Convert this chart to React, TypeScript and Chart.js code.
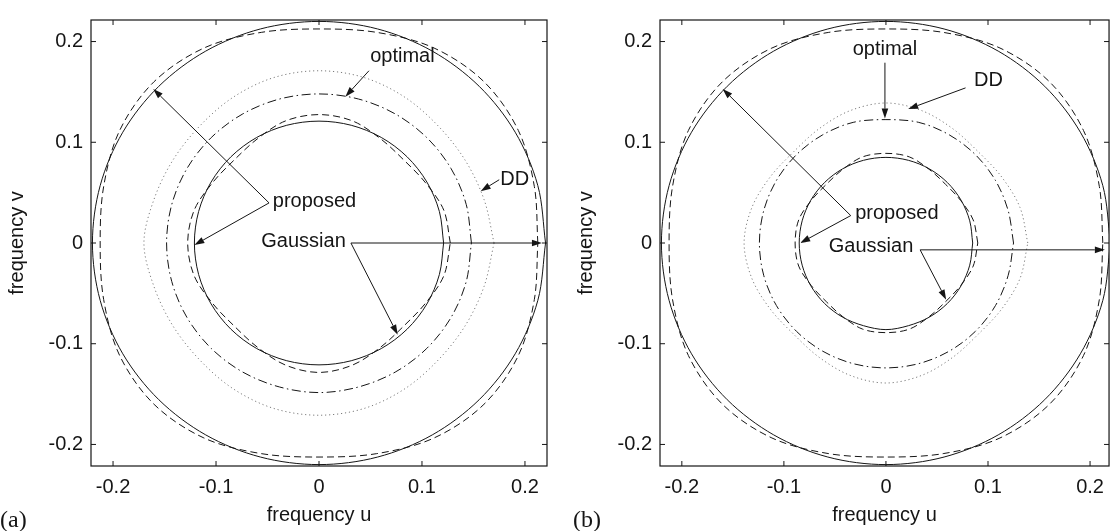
import React, { useEffect, useRef } from 'react';
import { Chart, registerables } from 'chart.js';

Chart.register(...registerables);

// ---------- shared axis data ----------
const ANGLES_DEG = [0, 15, 30, 45, 60, 75, 90, 105, 120, 135, 150, 165, 180, 195, 210, 225, 240, 255, 270, 285, 300, 315, 330, 345];
const TICK_VALUES = [-0.2, -0.1, 0, 0.1, 0.2];
const TICK_LABELS = ['-0.2', '-0.1', '0', '0.1', '0.2'];
const X_TITLE = 'frequency u';
const Y_TITLE = 'frequency v';
const PANEL_LETTERS = ['(a)', '(b)'];
const A_X_RANGE = [-0.2214, 0.2214];
const B_X_RANGE = [-0.2214, 0.2186];
const Y_RANGE = [-0.2214, 0.2214];

// ---------- panel (a): contour radius at each angle ----------
const A_PROPOSED_OUTER = [0.22, 0.22, 0.22, 0.22, 0.22, 0.22, 0.22, 0.22, 0.22, 0.22, 0.22, 0.22, 0.22, 0.22, 0.22, 0.22, 0.22, 0.22, 0.22, 0.22, 0.22, 0.22, 0.22, 0.22];
const A_GAUSSIAN_OUTER = [0.2125, 0.2165, 0.2235, 0.2265, 0.2235, 0.2165, 0.2125, 0.2165, 0.2235, 0.2265, 0.2235, 0.2165, 0.2125, 0.2165, 0.2235, 0.2265, 0.2235, 0.2165, 0.2125, 0.2165, 0.2235, 0.2265, 0.2235, 0.2165];
const A_PROPOSED_INNER = [0.121, 0.121, 0.121, 0.121, 0.121, 0.121, 0.121, 0.121, 0.121, 0.121, 0.121, 0.121, 0.121, 0.121, 0.121, 0.121, 0.121, 0.121, 0.121, 0.121, 0.121, 0.121, 0.121, 0.121];
const A_GAUSSIAN_INNER = [0.1275, 0.1255, 0.1195, 0.1165, 0.1195, 0.1255, 0.1275, 0.1255, 0.1195, 0.1165, 0.1195, 0.1255, 0.1275, 0.1255, 0.1195, 0.1165, 0.1195, 0.1255, 0.1285, 0.1255, 0.1195, 0.1165, 0.1195, 0.1255];
const A_OPTIMAL = [0.148, 0.148, 0.148, 0.148, 0.148, 0.148, 0.148, 0.148, 0.148, 0.148, 0.148, 0.148, 0.148, 0.148, 0.148, 0.148, 0.148, 0.148, 0.1485, 0.148, 0.148, 0.148, 0.148, 0.148];
const A_DD = [0.17, 0.166, 0.164, 0.164, 0.167, 0.17, 0.171, 0.17, 0.167, 0.164, 0.164, 0.166, 0.17, 0.166, 0.164, 0.164, 0.167, 0.17, 0.171, 0.17, 0.167, 0.164, 0.164, 0.166];

const A_TEXTS = [
  { text: 'optimal', x: 0.081, y: 0.185 },
  { text: 'DD', x: 0.19, y: 0.063 },
  { text: 'proposed', x: -0.0044, y: 0.0417 },
  { text: 'Gaussian', x: -0.015, y: 0.002 },
];
const A_ARROWS = [
  { from: [0.0485, 0.171], to: [0.0256, 0.1453] },
  { from: [0.175, 0.0628], to: [0.157, 0.0515] },
  { from: [-0.0485, 0.0398], to: [-0.161, 0.153] },
  { from: [-0.0485, 0.0398], to: [-0.121, -0.002] },
  { from: [0.031, 0.0], to: [0.2165, 0.0] },
  { from: [0.031, 0.0], to: [0.0764, -0.091] },
];

// ---------- panel (b) ----------
const B_PROPOSED_OUTER = [0.22, 0.22, 0.22, 0.22, 0.22, 0.22, 0.22, 0.22, 0.22, 0.22, 0.22, 0.22, 0.22, 0.22, 0.22, 0.22, 0.22, 0.22, 0.22, 0.22, 0.22, 0.22, 0.22, 0.22];
const B_GAUSSIAN_OUTER = [0.2125, 0.2165, 0.2235, 0.2265, 0.2235, 0.2165, 0.2125, 0.2165, 0.2235, 0.2265, 0.2235, 0.2165, 0.2125, 0.2165, 0.2235, 0.2265, 0.2235, 0.2165, 0.2125, 0.2165, 0.2235, 0.2265, 0.2235, 0.2165];
const B_PROPOSED_INNER = [0.085, 0.085, 0.085, 0.085, 0.085, 0.085, 0.085, 0.085, 0.085, 0.085, 0.085, 0.085, 0.085, 0.085, 0.085, 0.085, 0.085, 0.085, 0.086, 0.085, 0.085, 0.085, 0.085, 0.085];
const B_GAUSSIAN_INNER = [0.09, 0.0885, 0.0845, 0.0825, 0.0845, 0.0885, 0.089, 0.0885, 0.0845, 0.0825, 0.0845, 0.0885, 0.089, 0.0885, 0.0845, 0.0825, 0.0845, 0.0885, 0.089, 0.0885, 0.0845, 0.0825, 0.0845, 0.0885];
const B_OPTIMAL = [0.125, 0.124, 0.124, 0.124, 0.124, 0.124, 0.1225, 0.124, 0.124, 0.124, 0.124, 0.124, 0.124, 0.124, 0.124, 0.124, 0.124, 0.124, 0.124, 0.124, 0.124, 0.124, 0.124, 0.124];
const B_DD = [0.139, 0.136, 0.131, 0.128, 0.131, 0.136, 0.139, 0.136, 0.131, 0.128, 0.131, 0.136, 0.139, 0.136, 0.131, 0.128, 0.131, 0.136, 0.139, 0.136, 0.131, 0.128, 0.131, 0.136];

const B_TEXTS = [
  { text: 'optimal', x: -0.001, y: 0.192 },
  { text: 'DD', x: 0.1005, y: 0.161 },
  { text: 'proposed', x: 0.0107, y: 0.029 },
  { text: 'Gaussian', x: -0.0146, y: -0.003 },
];
const B_ARROWS = [
  { from: [-0.001, 0.179], to: [-0.001, 0.1235] },
  { from: [0.078, 0.154], to: [0.0218, 0.133] },
  { from: [-0.0345, 0.0272], to: [-0.16, 0.153] },
  { from: [-0.0345, 0.0272], to: [-0.084, 0.0] },
  { from: [0.0335, -0.0068], to: [0.2145, -0.0068] },
  { from: [0.0335, -0.0068], to: [0.059, -0.0563] },
];

// ---------- helpers ----------
const SANS = '"Liberation Sans", Arial, Helvetica, sans-serif';
const INK = '#151515';

function toPoints(radii: number[]) {
  const pts = ANGLES_DEG.map((deg, i) => {
    const a = (deg * Math.PI) / 180;
    return { x: radii[i] * Math.cos(a), y: radii[i] * Math.sin(a) };
  });
  pts.push({ ...pts[0] });
  return pts;
}

function curve(radii: number[], style: 'solid' | 'dashed' | 'dashdot' | 'dotted') {
  const dash =
    style === 'dashed' ? [7, 4] : style === 'dashdot' ? [9, 3.5, 1.5, 3.5] : style === 'dotted' ? [1.2, 2.8] : [];
  return {
    data: toPoints(radii),
    showLine: true,
    pointRadius: 0,
    borderColor: style === 'dotted' ? '#7a7a7a' : INK,
    borderWidth: 1,
    borderDash: dash,
    tension: 0.33,
    fill: false,
  };
}

function drawArrow(ctx: CanvasRenderingContext2D, x1: number, y1: number, x2: number, y2: number) {
  const ang = Math.atan2(y2 - y1, x2 - x1);
  const L = 10;
  const W = 3.3;
  const c = Math.cos(ang);
  const s = Math.sin(ang);
  const bx = x2 - L * c;
  const by = y2 - L * s;
  ctx.beginPath();
  ctx.moveTo(x1, y1);
  ctx.lineTo(bx, by);
  ctx.stroke();
  ctx.beginPath();
  ctx.moveTo(x2, y2);
  ctx.lineTo(bx + W * s, by - W * c);
  ctx.lineTo(bx - W * s, by + W * c);
  ctx.closePath();
  ctx.fill();
}

const framePlugin = {
  id: 'frame',
  afterDatasetsDraw(chart: any, _args: any, opts: any) {
    const { ctx, chartArea: ca, scales } = chart;
    const xs = scales.x;
    const ys = scales.y;
    ctx.save();
    ctx.strokeStyle = INK;
    ctx.fillStyle = INK;
    ctx.lineWidth = 1.2;
    ctx.setLineDash([]);
    ctx.strokeRect(ca.left, ca.top, ca.right - ca.left, ca.bottom - ca.top);
    ctx.lineWidth = 1;
    const T = 5;
    TICK_VALUES.forEach((v) => {
      const px = xs.getPixelForValue(v);
      ctx.beginPath();
      ctx.moveTo(px, ca.bottom);
      ctx.lineTo(px, ca.bottom - T);
      ctx.moveTo(px, ca.top);
      ctx.lineTo(px, ca.top + T);
      ctx.stroke();
      const py = ys.getPixelForValue(v);
      ctx.beginPath();
      ctx.moveTo(ca.left, py);
      ctx.lineTo(ca.left + T, py);
      ctx.moveTo(ca.right, py);
      ctx.lineTo(ca.right - T, py);
      ctx.stroke();
    });
    (opts.arrows || []).forEach((a: any) => {
      drawArrow(
        ctx,
        xs.getPixelForValue(a.from[0]),
        ys.getPixelForValue(a.from[1]),
        xs.getPixelForValue(a.to[0]),
        ys.getPixelForValue(a.to[1])
      );
    });
    ctx.font = `20px ${SANS}`;
    ctx.textAlign = 'center';
    ctx.textBaseline = 'middle';
    (opts.texts || []).forEach((t: any) => {
      ctx.fillText(t.text, xs.getPixelForValue(t.x), ys.getPixelForValue(t.y));
    });
    ctx.restore();
  },
};

function makeConfig(datasets: any[], xRange: number[], texts: any[], arrows: any[], rightPad: number) {
  const tickFont = { family: SANS, size: 20 };
  const setTicks = (scale: any) => {
    scale.ticks = TICK_VALUES.map((v) => ({ value: v }));
  };
  const label = (_v: any, i: number) => TICK_LABELS[i];
  return {
    type: 'scatter' as const,
    data: { datasets },
    plugins: [framePlugin],
    options: {
      animation: false,
      responsive: false,
      maintainAspectRatio: false,
      events: [],
      layout: { padding: { top: 10, right: rightPad, bottom: 0, left: 0 } },
      plugins: {
        legend: { display: false },
        tooltip: { enabled: false },
        frame: { texts, arrows },
      },
      scales: {
        x: {
          type: 'linear',
          min: xRange[0],
          max: xRange[1],
          afterBuildTicks: setTicks,
          afterFit: (s: any) => {
            s.height = 65;
          },
          grid: { display: false, drawTicks: false },
          border: { display: false },
          ticks: { callback: label, font: tickFont, color: INK, padding: 9, maxRotation: 0, autoSkip: false },
          title: { display: true, text: X_TITLE, font: tickFont, color: INK, padding: { top: 0, bottom: 4 } },
        },
        y: {
          type: 'linear',
          min: Y_RANGE[0],
          max: Y_RANGE[1],
          afterBuildTicks: setTicks,
          afterFit: (s: any) => {
            s.width = 91;
          },
          grid: { display: false, drawTicks: false },
          border: { display: false },
          ticks: { callback: label, font: tickFont, color: INK, padding: 8, autoSkip: false },
          title: { display: true, text: Y_TITLE, font: tickFont, color: INK, padding: { top: 5, bottom: 0 } },
        },
      },
    },
  };
}

export default function App() {
  const refA = useRef<HTMLCanvasElement>(null);
  const refB = useRef<HTMLCanvasElement>(null);

  useEffect(() => {
    const dsA = [
      curve(A_DD, 'dotted'),
      curve(A_OPTIMAL, 'dashdot'),
      curve(A_GAUSSIAN_INNER, 'dashed'),
      curve(A_PROPOSED_INNER, 'solid'),
      curve(A_GAUSSIAN_OUTER, 'dashed'),
      curve(A_PROPOSED_OUTER, 'solid'),
    ];
    const dsB = [
      curve(B_DD, 'dotted'),
      curve(B_OPTIMAL, 'dashdot'),
      curve(B_GAUSSIAN_INNER, 'dashed'),
      curve(B_PROPOSED_INNER, 'solid'),
      curve(B_GAUSSIAN_OUTER, 'dashed'),
      curve(B_PROPOSED_OUTER, 'solid'),
    ];
    const a = new Chart(refA.current as HTMLCanvasElement, makeConfig(dsA, A_X_RANGE, A_TEXTS, A_ARROWS, 13) as any);
    const b = new Chart(refB.current as HTMLCanvasElement, makeConfig(dsB, B_X_RANGE, B_TEXTS, B_ARROWS, 1) as any);
    return () => {
      a.destroy();
      b.destroy();
    };
  }, []);

  const letterStyle: React.CSSProperties = {
    position: 'absolute',
    top: 505,
    fontFamily: '"Liberation Serif", "Times New Roman", serif',
    fontSize: 24,
    lineHeight: '28px',
    color: INK,
  };

  return (
    <div
      style={{
        position: 'absolute',
        left: 0,
        top: 0,
        width: 1113,
        height: 531,
        overflow: 'hidden',
        background: '#fff',
      }}
    >
      <canvas ref={refA} width={560} height={531} style={{ position: 'absolute', left: 0, top: 0, display: 'block' }} />
      <canvas ref={refB} width={544} height={531} style={{ position: 'absolute', left: 569, top: 0, display: 'block' }} />
      <div style={{ ...letterStyle, left: 0 }}>{PANEL_LETTERS[0]}</div>
      <div style={{ ...letterStyle, left: 573 }}>{PANEL_LETTERS[1]}</div>
    </div>
  );
}
